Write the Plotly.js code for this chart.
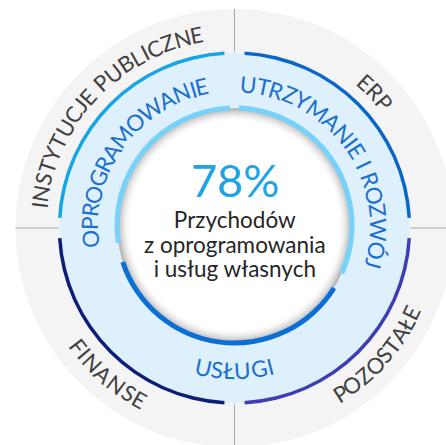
<!DOCTYPE html>
<html><head><meta charset="utf-8">
<script src="https://cdn.plot.ly/plotly-3.0.1.min.js"></script>
<style>html,body{margin:0;padding:0;overflow:hidden;background:#fff;width:446px;height:445px}#chart{width:469px;height:456px}</style>
</head><body><div id="chart"></div><script>
// ---- data ----
const segments = ['INSTYTUCJE PUBLICZNE', 'ERP', 'POZOSTAŁE', 'FINANSE'];
const segmentShares = [25, 25, 25, 25];
const revenueTypes = ['OPROGRAMOWANIE', 'UTRZYMANIE I ROZWÓJ', 'USŁUGI'];
const revenueShares = [28.5, 33.1, 38.4];
const ownRevenuePct = 78;
const centerLines = ['Przychodów', 'z oprogramowania', 'i usług własnych'];

// ---- style / layout ----
const W = 469, H = 456;
const CX = 234.5, CY = 228;        // outer ring centre (px)
const CY2 = 225.5;                 // inner circle centre (px)
const R1 = 228, R2 = 225.5;        // polar pixel radii
const FONT = 'Lato, "Open Sans", sans-serif';
const segColors = ['#17a5e6', '#0b66c9', '#3d3db5', '#0d1d78'];
const revColors = ['#76d2fa', '#76d2fa', '#0c6fd6'];
const revGapAfter = [9.5, 4.4, 8.0];

const traces = [];
traces.push({type:'barpolar', subplot:'polar', r:[219], base:[0], theta:[0], width:[360],
  marker:{color:'#f4f4f4', line:{width:0}}, hoverinfo:'skip'});
traces.push({type:'barpolar', subplot:'polar', r:[175], base:[0], theta:[0], width:[360],
  marker:{color:'#def0fc', line:{width:0}}, hoverinfo:'skip'});
const segGap = 3.3;
let a = 180;
const segTheta = [], segWidth = [], bounds = [];
segmentShares.forEach((s) => {
  const span = s / 100 * 360;
  bounds.push(a);
  segTheta.push(a - span / 2);
  segWidth.push(span - 2 * segGap);
  a -= span;
});
traces.push({type:'barpolar', subplot:'polar', r:segments.map(() => 3.5), base:segments.map(() => 173.3),
  theta:segTheta, width:segWidth, marker:{color:segColors, line:{width:0}}, hoverinfo:'skip'});
const lr = [], lt = [];
bounds.forEach(b => { lr.push(176, 219, null); lt.push(b, b, null); });
traces.push({type:'scatterpolar', subplot:'polar', mode:'lines', r:lr, theta:lt,
  line:{color:'#a8a8a8', width:1}, hoverinfo:'skip', connectgaps:false});

traces.push({type:'barpolar', subplot:'polar2', r:[117.5], base:[0], theta:[0], width:[360],
  marker:{color:'#ffffff', line:{width:0}}, hoverinfo:'skip'});
const shAlpha = [0.012, 0.025, 0.04, 0.055, 0.075, 0.1];
shAlpha.forEach((al, k) => {
  traces.push({type:'barpolar', subplot:'polar2', r:[117.5 - (105 + k * 2)], base:[105 + k * 2], theta:[0], width:[360],
    marker:{color:'rgba(0,0,0,' + al + ')', line:{width:0}}, hoverinfo:'skip'});
});
const totalGap = revGapAfter.reduce((x, y) => x + y, 0);
const avail = 360 - totalGap;
let st = 92.2;
const revTheta = [], revWidth = [];
const spans = revenueShares.map(s => s / revenueShares.reduce((x, y) => x + y, 0) * avail);
const orderCcw = [0, 2, 1];
const gapsCcw = [revGapAfter[0], revGapAfter[2], revGapAfter[1]];
const thetaTmp = {}, widthTmp = {};
orderCcw.forEach((idx, j) => {
  thetaTmp[idx] = st + spans[idx] / 2;
  widthTmp[idx] = spans[idx];
  st += spans[idx] + gapsCcw[j];
});
revenueTypes.forEach((_, i) => { revTheta.push(thetaTmp[i]); revWidth.push(widthTmp[i]); });
traces.push({type:'barpolar', subplot:'polar2', r:revenueTypes.map(() => 5), base:revenueTypes.map(() => 115),
  theta:revTheta, width:revWidth, marker:{color:revColors, line:{width:0}}, hoverinfo:'skip'});

const cv = document.createElement('canvas').getContext('2d');
function curved(str, r, a0, a1, size, color, outward) {
  cv.font = size + 'px Lato';
  const chars = [...str];
  const w = chars.map(c => cv.measureText(c).width);
  let cum = 0; const pos = [];
  w.forEach(wi => { pos.push(cum + wi / 2); cum += wi; });
  const p0 = pos[0], p1 = pos[pos.length - 1];
  const out = [];
  chars.forEach((c, i) => {
    if (c === ' ') return;
    const t = (pos[i] - p0) / (p1 - p0);
    const th = a0 + (a1 - a0) * t;
    const rad = th * Math.PI / 180;
    const px = CX + r * Math.cos(rad), py = CY - r * Math.sin(rad);
    let ang = outward ? 90 - th : -90 - th;
    while (ang > 180) ang -= 360;
    while (ang < -180) ang += 360;
    out.push({x:px / W, y:1 - py / H, xref:'paper', yref:'paper', text:c, showarrow:false,
      textangle:ang, xanchor:'center', yanchor:'middle', font:{family:FONT, size:size, color:color}});
  });
  return out;
}
const OUT = '#404040', BAND = '#1a6fcf';
let ann = [];
ann = ann.concat(curved(segments[0], 197, 173.3, 101, 22, OUT, true));
ann = ann.concat(curved(segments[1], 196, 48, 40, 22, OUT, true));
ann = ann.concat(curved(segments[2], 196, -57.4, -25.7, 22, OUT, false));
ann = ann.concat(curved(segments[3], 196, -142.8, -119, 22, OUT, false));
ann = ann.concat(curved(revenueTypes[0], 145, 184.4, 103, 22.5, BAND, true));
ann = ann.concat(curved(revenueTypes[1], 144, 84.6, -14.5, 22.5, BAND, true));
ann = ann.concat(curved(revenueTypes[2], 143, -102.5, -75.7, 22.5, BAND, false));

ann.push({x:CX / W, y:1 - 180 / H, xref:'paper', yref:'paper', text:ownRevenuePct + '%', showarrow:false,
  xanchor:'center', yanchor:'middle', font:{family:FONT, size:45, color:'#1ca4e6'}});
ann.push({x:CX / W, y:1 - 244 / H, xref:'paper', yref:'paper',
  text:centerLines.map(t => '<span style="font-size:22.5px">' + t + '</span>').join('<br>'),
  showarrow:false, xanchor:'center', yanchor:'middle', align:'center',
  font:{family:FONT, size:19, color:'#262626'}});

const axisOff = {visible:false, showgrid:false, showline:false, showticklabels:false, ticks:''};
const layout = {
  width:W, height:H, margin:{l:0, r:0, t:0, b:0}, paper_bgcolor:'#ffffff', showlegend:false,
  polar:{domain:{x:[0, 1], y:[0, 1]}, bgcolor:'rgba(0,0,0,0)',
    radialaxis:Object.assign({range:[0, R1]}, axisOff),
    angularaxis:Object.assign({rotation:0, direction:'counterclockwise'}, axisOff)},
  polar2:{domain:{x:[0, 1], y:[1 - (CY2 + R2) / H, 1]}, bgcolor:'rgba(0,0,0,0)',
    radialaxis:Object.assign({range:[0, R2]}, axisOff),
    angularaxis:Object.assign({rotation:0, direction:'counterclockwise'}, axisOff)},
  annotations:ann
};
Plotly.newPlot('chart', traces, layout, {staticPlot:true, displayModeBar:false});
</script></body></html>
